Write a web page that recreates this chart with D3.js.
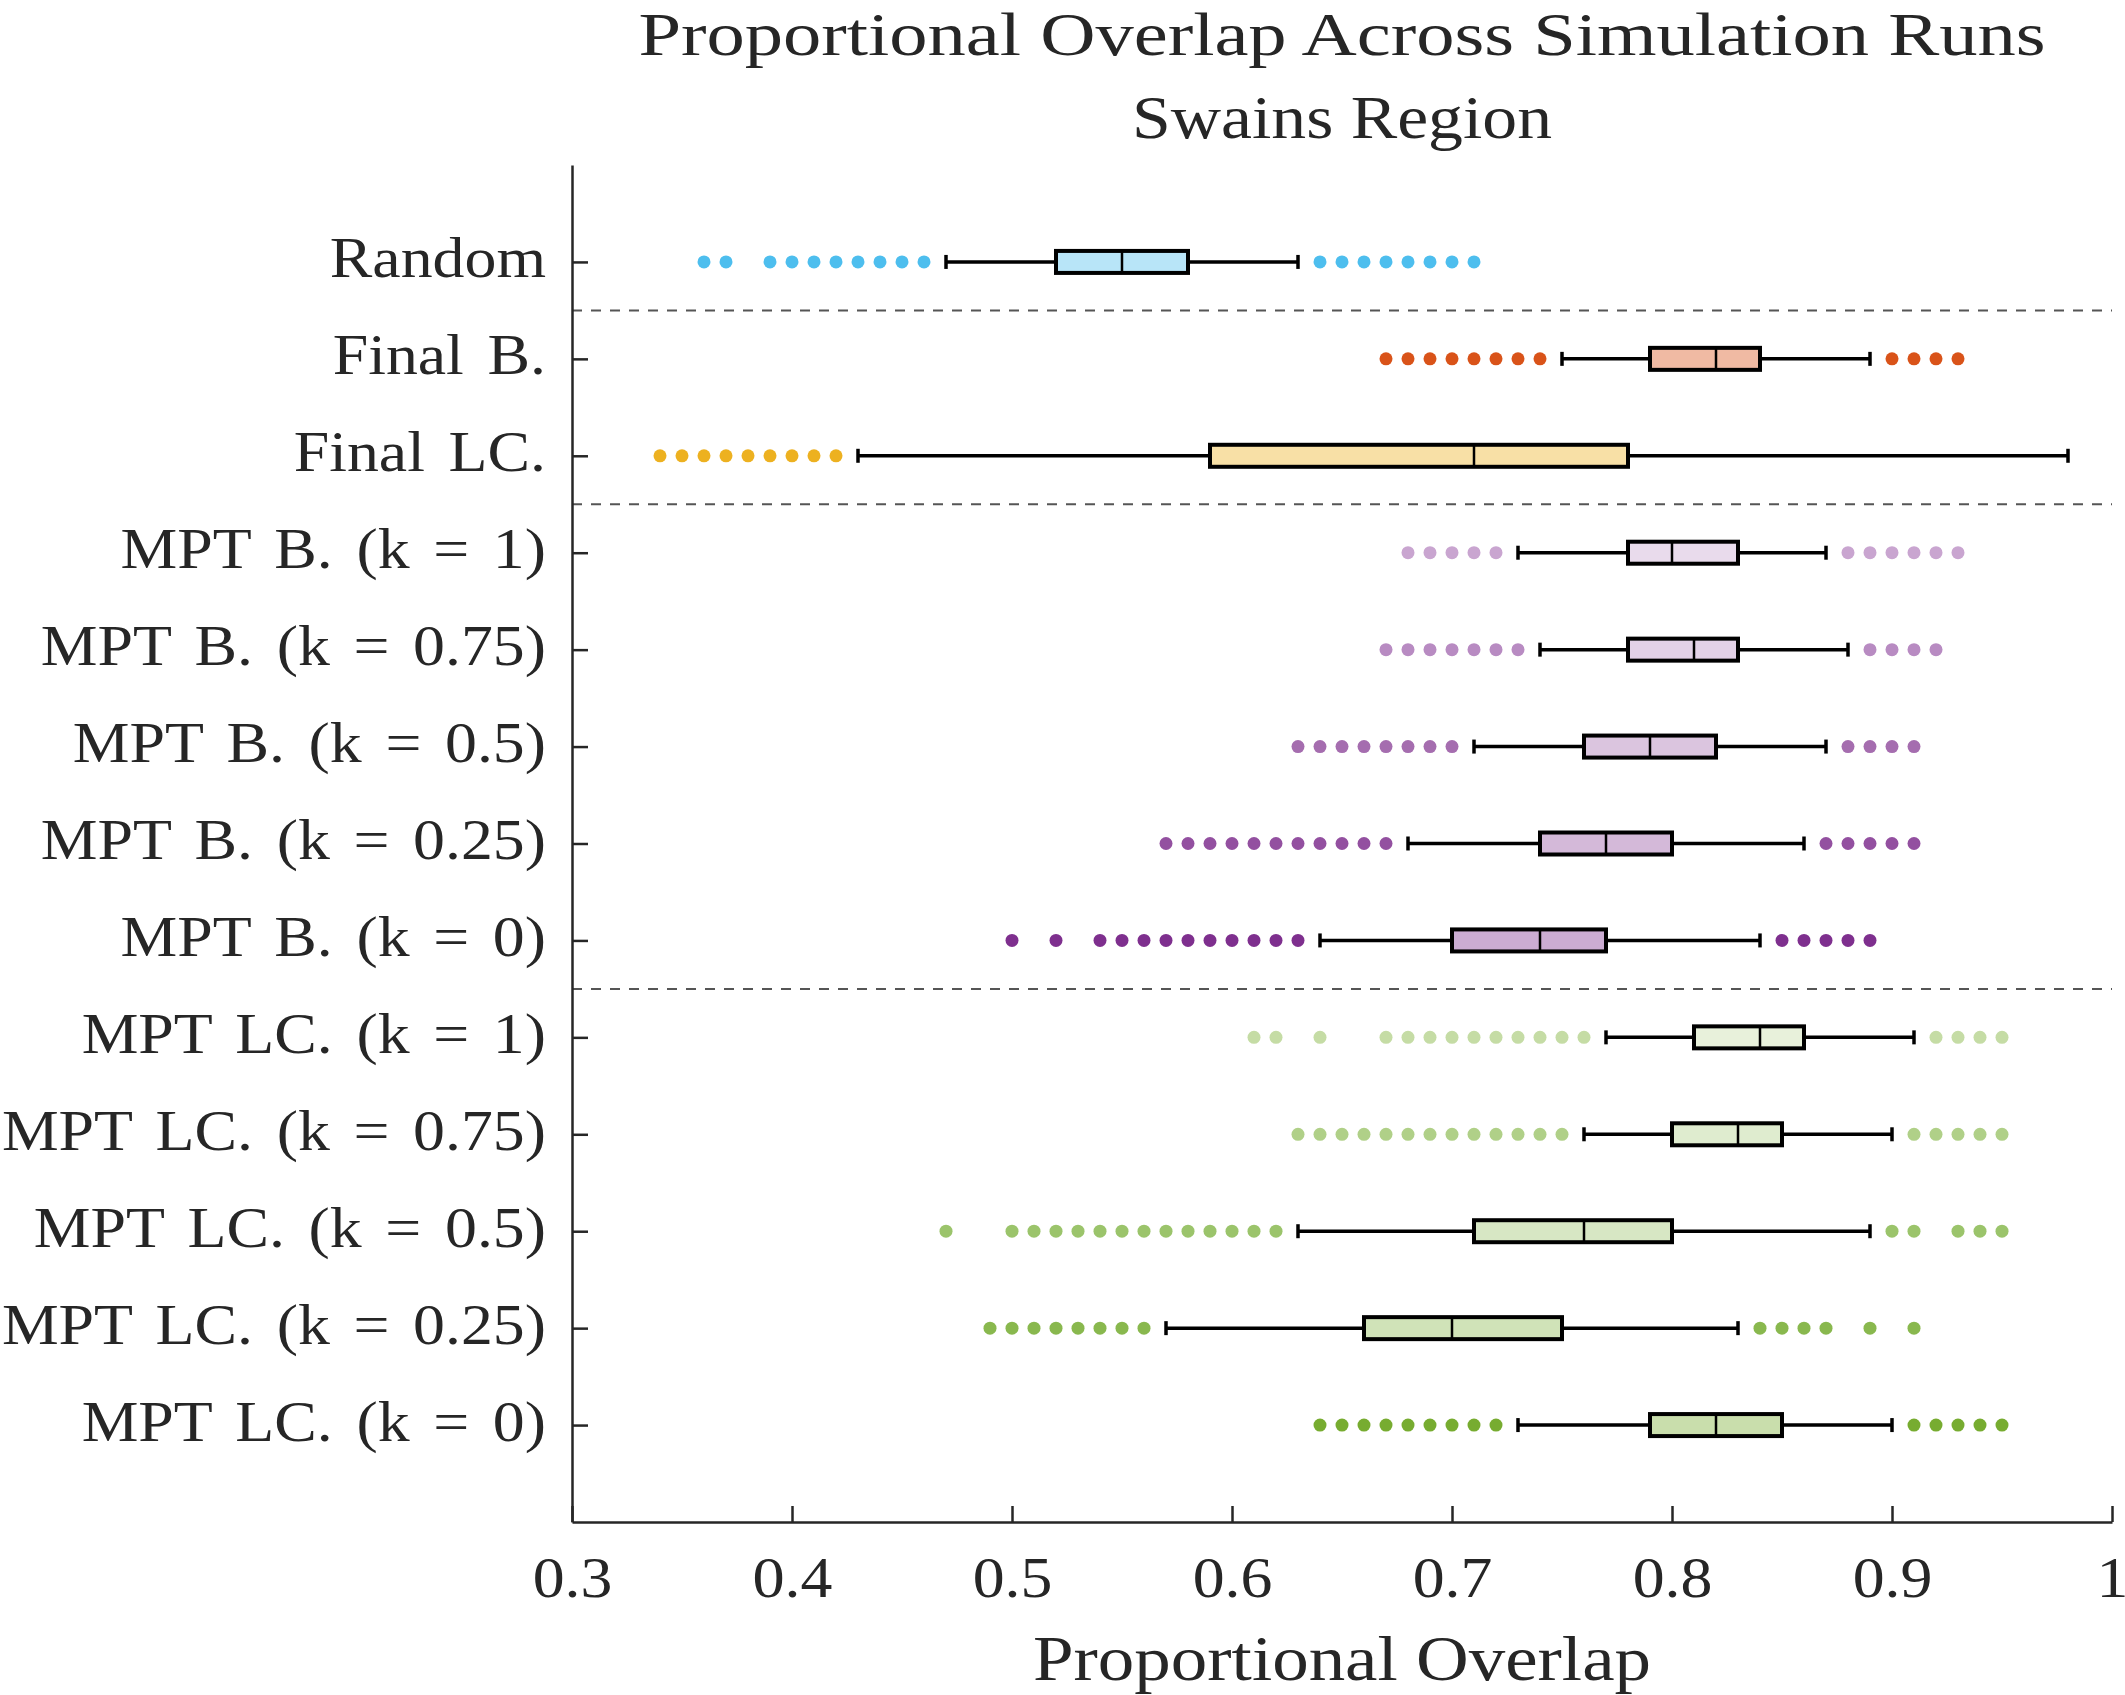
<!DOCTYPE html>
<html>
<head>
<meta charset="utf-8">
<script src="https://cdn.jsdelivr.net/npm/d3@7"></script>
<style>
  body { margin: 0; background: #fff; }
  text { font-family: "Liberation Serif", "Times New Roman", serif; fill: #262626; }
</style>
</head>
<body>
<div id="chart"></div>
<script>
var svgWidth = 2125;
var svgHeight = 1695;

var margin = { top: 165, right: 13, bottom: 173, left: 572 };
var width = svgWidth - margin.left - margin.right;
var height = svgHeight - margin.top - margin.bottom;

// Rows, top to bottom
var categories = [
  "Random", "Final B.", "Final LC.",
  "MPT B. (k = 1)", "MPT B. (k = 0.75)", "MPT B. (k = 0.5)", "MPT B. (k = 0.25)", "MPT B. (k = 0)",
  "MPT LC. (k = 1)", "MPT LC. (k = 0.75)", "MPT LC. (k = 0.5)", "MPT LC. (k = 0.25)", "MPT LC. (k = 0)"
];

var whiskerLow  = [0.47, 0.75, 0.43, 0.73, 0.74, 0.71, 0.68, 0.64, 0.77, 0.76, 0.63, 0.57, 0.73];
var q1          = [0.52, 0.79, 0.59, 0.78, 0.78, 0.76, 0.74, 0.70, 0.81, 0.80, 0.71, 0.66, 0.79];
var medians     = [0.55, 0.82, 0.71, 0.80, 0.81, 0.79, 0.77, 0.74, 0.84, 0.83, 0.76, 0.70, 0.82];
var q3          = [0.58, 0.84, 0.78, 0.83, 0.83, 0.82, 0.80, 0.77, 0.86, 0.85, 0.80, 0.75, 0.85];
var whiskerHigh = [0.63, 0.89, 0.98, 0.87, 0.88, 0.87, 0.86, 0.84, 0.91, 0.90, 0.89, 0.83, 0.90];

var outliers = [
  [0.36, 0.37, 0.39, 0.40, 0.41, 0.42, 0.43, 0.44, 0.45, 0.46, 0.64, 0.65, 0.66, 0.67, 0.68, 0.69, 0.70, 0.71],
  [0.67, 0.68, 0.69, 0.70, 0.71, 0.72, 0.73, 0.74, 0.90, 0.91, 0.92, 0.93],
  [0.34, 0.35, 0.36, 0.37, 0.38, 0.39, 0.40, 0.41, 0.42],
  [0.68, 0.69, 0.70, 0.71, 0.72, 0.88, 0.89, 0.90, 0.91, 0.92, 0.93],
  [0.67, 0.68, 0.69, 0.70, 0.71, 0.72, 0.73, 0.89, 0.90, 0.91, 0.92],
  [0.63, 0.64, 0.65, 0.66, 0.67, 0.68, 0.69, 0.70, 0.88, 0.89, 0.90, 0.91],
  [0.57, 0.58, 0.59, 0.60, 0.61, 0.62, 0.63, 0.64, 0.65, 0.66, 0.67, 0.87, 0.88, 0.89, 0.90, 0.91],
  [0.50, 0.52, 0.54, 0.55, 0.56, 0.57, 0.58, 0.59, 0.60, 0.61, 0.62, 0.63, 0.85, 0.86, 0.87, 0.88, 0.89],
  [0.61, 0.62, 0.64, 0.67, 0.68, 0.69, 0.70, 0.71, 0.72, 0.73, 0.74, 0.75, 0.76, 0.92, 0.93, 0.94, 0.95],
  [0.63, 0.64, 0.65, 0.66, 0.67, 0.68, 0.69, 0.70, 0.71, 0.72, 0.73, 0.74, 0.75, 0.91, 0.92, 0.93, 0.94, 0.95],
  [0.47, 0.50, 0.51, 0.52, 0.53, 0.54, 0.55, 0.56, 0.57, 0.58, 0.59, 0.60, 0.61, 0.62, 0.90, 0.91, 0.93, 0.94, 0.95],
  [0.49, 0.50, 0.51, 0.52, 0.53, 0.54, 0.55, 0.56, 0.84, 0.85, 0.86, 0.87, 0.89, 0.91],
  [0.64, 0.65, 0.66, 0.67, 0.68, 0.69, 0.70, 0.71, 0.72, 0.91, 0.92, 0.93, 0.94, 0.95]
];

var colors = [
  "#4dbeee", "#d95319", "#edb120",
  "#c9a5d0", "#b88bc2", "#a56daf", "#9350a0", "#7e2f8e",
  "#c5dca5", "#b0d088", "#9bc46b", "#89b84e", "#77ac30"
];

// group separators (between rows)
var separators = [1.5, 3.5, 8.5];

var xTicks = [0.3, 0.4, 0.5, 0.6, 0.7, 0.8, 0.9, 1];

var rows = categories.map(function(c, i) {
  return {
    name: c, pos: i + 1,
    lo: whiskerLow[i], q1: q1[i], med: medians[i], q3: q3[i], hi: whiskerHigh[i],
    out: outliers[i], color: colors[i]
  };
});

var svg = d3.select("#chart")
  .append("svg")
  .attr("width", svgWidth)
  .attr("height", svgHeight);

var chartGroup = svg.append("g")
  .attr("transform", `translate(${margin.left}, ${margin.top})`);

var xScale = d3.scaleLinear().domain([0.3, 1]).range([0, width]);
var yScale = d3.scaleLinear().domain([0, 14]).range([0, height]);

// stretch Times a little so it takes the width of Computer Modern
function widen(sel, k) {
  sel.each(function() {
    var w = this.getComputedTextLength();
    d3.select(this).attr("textLength", w * k).attr("lengthAdjust", "spacingAndGlyphs");
  });
}

function widenTo(sel, w) {
  sel.attr("textLength", w).attr("lengthAdjust", "spacingAndGlyphs");
}

// separators
chartGroup.selectAll(".sep")
  .data(separators)
  .enter()
  .append("line")
  .attr("class", "sep")
  .attr("x1", 0)
  .attr("x2", width)
  .attr("y1", d => yScale(d))
  .attr("y2", d => yScale(d))
  .attr("stroke", "#555")
  .attr("stroke-width", 2)
  .attr("stroke-dasharray", "10,9");

// axes
var bottomAxis = d3.axisBottom(xScale)
  .tickValues(xTicks)
  .tickFormat(d => d === 1 ? "1" : d3.format(".1f")(d))
  .tickSizeInner(-16)
  .tickSizeOuter(0)
  .tickPadding(34);

var leftAxis = d3.axisLeft(yScale)
  .tickValues(rows.map(d => d.pos))
  .tickFormat((d, i) => categories[i])
  .tickSizeInner(-16)
  .tickSizeOuter(0)
  .tickPadding(26);

var xAxis = chartGroup.append("g")
  .attr("transform", `translate(0, ${height})`)
  .call(bottomAxis);

var yAxis = chartGroup.append("g")
  .call(leftAxis);

[xAxis, yAxis].forEach(function(ax) {
  ax.select(".domain").attr("stroke", "#262626").attr("stroke-width", 2.5);
  ax.selectAll(".tick line").attr("stroke", "#262626").attr("stroke-width", 2.5);
  ax.selectAll(".tick text")
    .attr("font-size", "58px")
    .attr("font-family", "Liberation Serif")
    .attr("fill", "#262626");
});
yAxis.selectAll(".tick text").attr("dy", "15px").style("word-spacing", "7px");
xAxis.selectAll(".tick text").attr("dy", "0.71em");
widen(yAxis.selectAll(".tick text"), 1.1);
widen(xAxis.selectAll(".tick text"), 1.1);

// box groups
var boxGroups = chartGroup.selectAll(".box")
  .data(rows)
  .enter()
  .append("g")
  .attr("class", "box");

var halfBox = 11;
var capHalf = 7;

// outliers
boxGroups.each(function(d) {
  d3.select(this).selectAll("circle")
    .data(d.out)
    .enter()
    .append("circle")
    .attr("cx", v => xScale(v))
    .attr("cy", yScale(d.pos))
    .attr("r", 6.5)
    .attr("fill", d.color);
});

// whiskers
boxGroups.append("line")
  .attr("x1", d => xScale(d.lo))
  .attr("x2", d => xScale(d.q1))
  .attr("y1", d => yScale(d.pos))
  .attr("y2", d => yScale(d.pos))
  .attr("stroke", "#000")
  .attr("stroke-width", 3.5);

boxGroups.append("line")
  .attr("x1", d => xScale(d.q3))
  .attr("x2", d => xScale(d.hi))
  .attr("y1", d => yScale(d.pos))
  .attr("y2", d => yScale(d.pos))
  .attr("stroke", "#000")
  .attr("stroke-width", 3.5);

// whisker caps
["lo", "hi"].forEach(function(key) {
  boxGroups.append("line")
    .attr("x1", d => xScale(d[key]))
    .attr("x2", d => xScale(d[key]))
    .attr("y1", d => yScale(d.pos) - capHalf)
    .attr("y2", d => yScale(d.pos) + capHalf)
    .attr("stroke", "#000")
    .attr("stroke-width", 3.5);
});

// boxes
boxGroups.append("rect")
  .attr("x", d => xScale(d.q1))
  .attr("width", d => xScale(d.q3) - xScale(d.q1))
  .attr("y", d => yScale(d.pos) - halfBox)
  .attr("height", halfBox * 2)
  .attr("fill", "#fff")
  .attr("stroke", "none");

boxGroups.append("rect")
  .attr("x", d => xScale(d.q1))
  .attr("width", d => xScale(d.q3) - xScale(d.q1))
  .attr("y", d => yScale(d.pos) - halfBox)
  .attr("height", halfBox * 2)
  .attr("fill", d => d.color)
  .attr("fill-opacity", 0.4)
  .attr("stroke", "#000")
  .attr("stroke-width", 4);

// medians
boxGroups.append("line")
  .attr("x1", d => xScale(d.med))
  .attr("x2", d => xScale(d.med))
  .attr("y1", d => yScale(d.pos) - halfBox)
  .attr("y2", d => yScale(d.pos) + halfBox)
  .attr("stroke", "#000")
  .attr("stroke-width", 2.5);

// titles
var cx = margin.left + width / 2;
var title1 = svg.append("text")
  .attr("x", cx)
  .attr("y", 55)
  .attr("text-anchor", "middle")
  .attr("font-size", "61px")
  .text("Proportional Overlap Across Simulation Runs");
widenTo(title1, 1407);

var title2 = svg.append("text")
  .attr("x", cx)
  .attr("y", 138)
  .attr("text-anchor", "middle")
  .attr("font-size", "61px")
  .text("Swains Region");
widenTo(title2, 420);

var xLabel = svg.append("text")
  .attr("x", cx)
  .attr("y", 1680)
  .attr("text-anchor", "middle")
  .attr("font-size", "64px")
  .text("Proportional Overlap");
widenTo(xLabel, 618);
</script>
</body>
</html>
